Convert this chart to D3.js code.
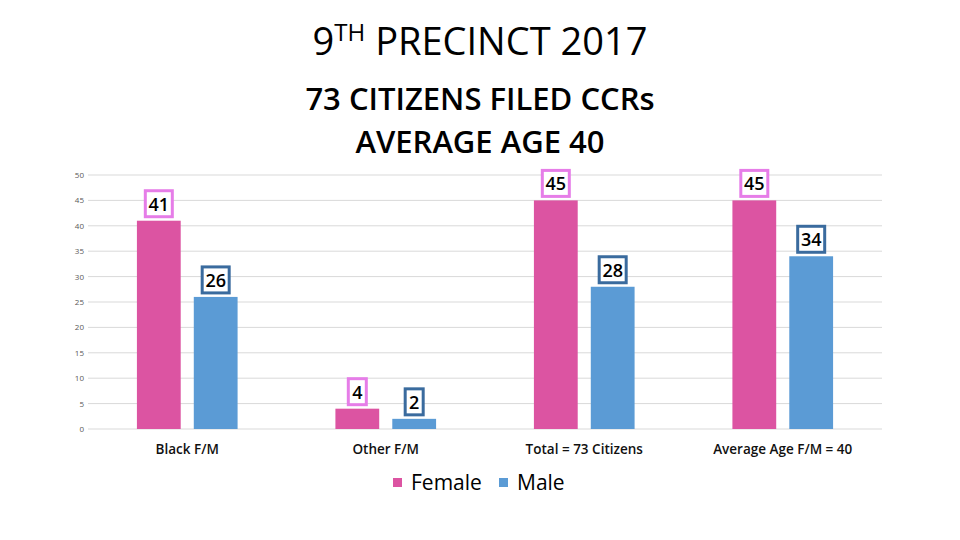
<!DOCTYPE html>
<html><head><meta charset="utf-8">
<script src="https://cdn.jsdelivr.net/npm/d3@7"></script>
<style>body{margin:0;background:#fff}svg{display:block}</style>
</head><body>
<svg id="c" width="960" height="540"></svg>
<script>
const categories = ["Black F/M", "Other F/M", "Total = 73 Citizens", "Average Age F/M = 40"];
const female = [41, 4, 45, 45];
const male = [26, 2, 28, 34];
const seriesNames = ["Female", "Male"];
const yTicks = [0, 5, 10, 15, 20, 25, 30, 35, 40, 45, 50];

const colors = {Female: "#dc54a2", Male: "#5b9bd5"};
const borders = {Female: "#e67de8", Male: "#3a6b9e"};
const font = "'Open Sans', 'Noto Sans', sans-serif";

const svg = d3.select("#c");
const plotL = 88, plotR = 882, plotT = 175, plotB = 429;

const x = d3.scaleBand().domain(categories).range([plotL, plotR]);
const xs = d3.scaleBand().domain(seriesNames).range([0, x.bandwidth()]).paddingInner(0.23).paddingOuter(0.86);
const y = d3.scaleLinear().domain([0, 50]).range([plotB, plotT]);

// gridlines
svg.append("g").selectAll("line").data(yTicks).join("line")
  .attr("x1", plotL).attr("x2", plotR)
  .attr("y1", d => y(d)).attr("y2", d => y(d))
  .attr("stroke", "#d9d9d9").attr("stroke-width", 1);

// y axis labels
const yAxis = svg.append("g").attr("transform", `translate(${plotL - 4},0)`)
  .call(d3.axisLeft(y).tickValues(yTicks).tickSize(0).tickPadding(0));
yAxis.select(".domain").remove();
yAxis.selectAll("text").attr("font-family", font).attr("font-size", 8).attr("fill", "#595959");

// bars
const data = [];
categories.forEach((c, i) => {
  data.push({cat: c, s: "Female", v: female[i]});
  data.push({cat: c, s: "Male", v: male[i]});
});
svg.append("g").selectAll("rect").data(data).join("rect")
  .attr("x", d => x(d.cat) + xs(d.s))
  .attr("width", xs.bandwidth())
  .attr("y", d => y(d.v))
  .attr("height", d => y(0) - y(d.v))
  .attr("fill", d => colors[d.s]);

// labels
const lg = svg.append("g").selectAll("g").data(data).join("g")
  .attr("transform", d => `translate(${x(d.cat) + xs(d.s) + xs.bandwidth() / 2},${y(d.v) - 3})`);
lg.each(function(d) {
  const g = d3.select(this);
  const w = String(d.v).length > 1 ? 27 : 18;
  g.append("rect").attr("x", -w / 2).attr("y", -27).attr("width", w).attr("height", 26)
    .attr("fill", "#fff").attr("stroke", borders[d.s]).attr("stroke-width", 3);
  g.append("text").attr("x", 0).attr("y", -7).attr("text-anchor", "middle")
    .attr("font-family", font).attr("font-size", 18).attr("font-weight", 600).attr("fill", "#000")
    .text(d.v);
});

// x category labels
svg.append("g").selectAll("text").data(categories).join("text")
  .attr("x", d => x(d) + x.bandwidth() / 2).attr("y", 454)
  .attr("text-anchor", "middle").attr("font-family", font).attr("font-size", 13.5)
  .attr("font-weight", 600).attr("fill", "#111")
  .text(d => d);

// titles
const t = svg.append("text").attr("x", 480).attr("y", 55).attr("text-anchor", "middle")
  .attr("font-family", font).attr("font-size", 38).attr("font-weight", 500).attr("fill", "#000");
t.append("tspan").text("9");
t.append("tspan").attr("font-size", 24).attr("dy", -14).text("TH");
t.append("tspan").attr("dy", 14).text(" PRECINCT 2017");
svg.append("text").attr("x", 480).attr("y", 110).attr("text-anchor", "middle")
  .attr("font-family", font).attr("font-size", 31).attr("font-weight", 600).text("73 CITIZENS FILED CCRs");
svg.append("text").attr("x", 480).attr("y", 153).attr("text-anchor", "middle")
  .attr("font-family", font).attr("font-size", 31).attr("font-weight", 600).text("AVERAGE AGE 40");

// legend
const legX = [393, 499];
const leg = svg.append("g").selectAll("g").data(seriesNames).join("g")
  .attr("transform", (d, i) => `translate(${legX[i]},478)`);
leg.append("rect").attr("width", 9).attr("height", 9).attr("fill", d => colors[d]);
leg.append("text").attr("x", 18).attr("y", 12).attr("font-family", font).attr("font-size", 21)
  .attr("font-weight", 500).attr("fill", "#000").text(d => d);
</script>
</body></html>
